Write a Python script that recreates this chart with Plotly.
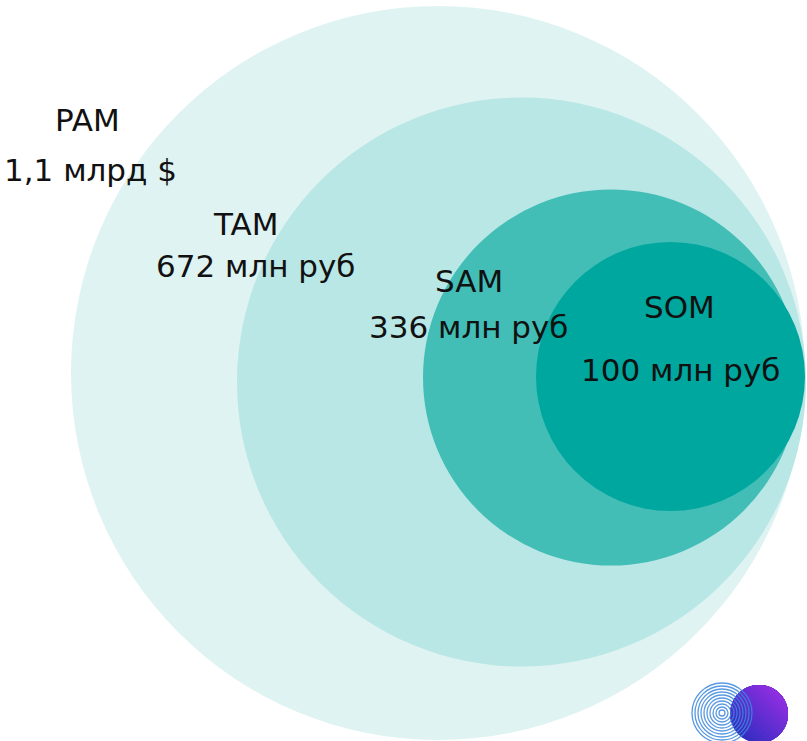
import math
import plotly.graph_objects as go

# ---- data ----
segments = ["PAM", "TAM", "SAM", "SOM"]
market_labels = ["1,1 млрд $", "672 млн руб", "336 млн руб", "100 млн руб"]
# circle geometry in chart units (x to the right, y downward)
circle_cx = [438, 521.5, 611, 670.5]
circle_cy = [373, 382, 377.5, 376.5]
circle_r = [367, 284.5, 188, 134.5]
fill_colors = ["#dff3f2", "#b9e7e5", "#42beb7", "#00a79e"]
# label anchor points
name_x = [87, 245, 469, 679]
name_y = [120, 224, 281, 307]
value_x = [90, 256, 469, 681]
value_y = [170, 266, 327, 370]

W, H = 807, 741

fig = go.Figure()
fig.add_trace(go.Scatter(x=[0, W], y=[0, H], mode="markers",
                         marker=dict(opacity=0), hoverinfo="skip", showlegend=False))

shapes = []
for cx, cy, r, c in zip(circle_cx, circle_cy, circle_r, fill_colors):
    shapes.append(dict(type="circle", xref="x", yref="y",
                       x0=cx - r, x1=cx + r, y0=cy - r, y1=cy + r,
                       fillcolor=c, line=dict(width=0), layer="below"))

# logo: purple disc with a linear gradient (bottom-left blue -> top-right violet)
lcx, lcy, lr = 759, 714, 29
theta0 = -math.pi / 4  # direction towards top-right (y grows downward)
c_start = (0x35, 0x2d, 0xc2)
c_end = (0x8e, 0x2f, 0xe0)
steps = 14
for s in range(steps):
    t = -lr + 2 * lr * s / steps
    alpha = math.acos(max(-1.0, min(1.0, t / lr)))
    pts = []
    n = 40
    for j in range(n + 1):
        a = theta0 - alpha + 2 * alpha * j / n
        pts.append((lcx + lr * math.cos(a), lcy + lr * math.sin(a)))
    path = "M " + " L ".join(f"{x:.2f},{y:.2f}" for x, y in pts) + " Z"
    f = s / (steps - 1)
    col = "rgb(%d,%d,%d)" % tuple(int(c_start[i] + (c_end[i] - c_start[i]) * f) for i in range(3))
    shapes.append(dict(type="path", xref="x", yref="y", path=path,
                       fillcolor=col, line=dict(width=0), layer="above"))
for k in range(1, 11):
    rr = 3 * k
    shapes.append(dict(type="circle", xref="x", yref="y",
                       x0=722 - rr, x1=722 + rr, y0=713 - rr, y1=713 + rr,
                       fillcolor="rgba(0,0,0,0)",
                       line=dict(width=1.3, color="rgba(60,135,220,0.85)"), layer="above"))

annotations = []
font = dict(family="DejaVu Sans", size=31, color="#111111")
for i in range(len(segments)):
    annotations.append(dict(x=name_x[i], y=name_y[i], xref="x", yref="y",
                            text=segments[i], showarrow=False, font=font,
                            xanchor="center", yanchor="middle"))
    annotations.append(dict(x=value_x[i], y=value_y[i], xref="x", yref="y",
                            text=market_labels[i], showarrow=False, font=font,
                            xanchor="center", yanchor="middle"))

fig.update_layout(
    width=W, height=H,
    margin=dict(l=0, r=0, t=0, b=0),
    paper_bgcolor="white", plot_bgcolor="white",
    xaxis=dict(range=[0, W], visible=False, fixedrange=True),
    yaxis=dict(range=[H, 0], visible=False, fixedrange=True),
    shapes=shapes, annotations=annotations, showlegend=False,
)

fig.write_html("out.html")
